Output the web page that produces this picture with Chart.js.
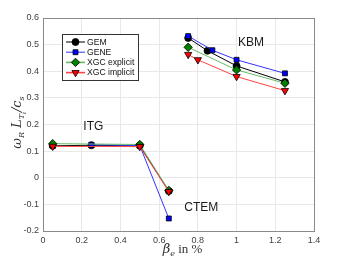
<!DOCTYPE html>
<html>
<head>
<meta charset="utf-8">
<script src="https://cdn.jsdelivr.net/npm/chart.js@4.4.1/dist/chart.umd.min.js"></script>
<style>
  html, body { margin: 0; padding: 0; background: #fff; }
  #wrap { width: 346px; height: 259px; }
</style>
</head>
<body>
<div id="wrap"><canvas id="myChart"></canvas></div>
<script>
// beta_e in %, null y = gap between ITG/CTEM branch and KBM branch
let gemX = [0.05, 0.25, 0.5, 0.65, 0.7, 0.75, 0.85, 1.0, 1.25];
let gemY = [0.120, 0.122, 0.120, -0.050, null, 0.525, 0.477, 0.420, 0.360];

let geneX = [0.25, 0.5, 0.65, 0.7, 0.75, 0.875, 1.0, 1.25];
let geneY = [0.124, 0.121, -0.153, null, 0.532, 0.479, 0.443, 0.392];

let expX = [0.05, 0.5, 0.65, 0.7, 0.75, 1.0, 1.25];
let expY = [0.128, 0.125, -0.048, null, 0.490, 0.405, 0.355];

let impX = [0.05, 0.5, 0.65, 0.7, 0.75, 0.8, 1.0, 1.25];
let impY = [0.118, 0.117, -0.052, null, 0.463, 0.443, 0.380, 0.327];

let xTicks = [0, 0.2, 0.4, 0.6, 0.8, 1, 1.2, 1.4];
let yTicks = [-0.2, -0.1, 0, 0.1, 0.2, 0.3, 0.4, 0.5, 0.6];

let regimes = [
    { text: 'ITG', x: 0.26, y: 0.19 },
    { text: 'KBM', x: 1.075, y: 0.506 },
    { text: 'CTEM', x: 0.818, y: -0.113 }
];

function pts(xs, ys) {
    return xs.map((x, i) => ({ x: x, y: ys[i] }));
}

let series = [
    { label: 'GEM', data: pts(gemX, gemY), line: '#000000', fill: '#000000', style: 'circle', r: 3.5, rot: 0 },
    { label: 'GENE', data: pts(geneX, geneY), line: '#3333ff', fill: '#0000ff', style: 'rect', r: 3.5, rot: 0 },
    { label: 'XGC explicit', data: pts(expX, expY), line: '#66bb66', fill: '#007f00', style: 'rectRot', r: 4.2, rot: 0 },
    { label: 'XGC implicit', data: pts(impX, impY), line: '#ff4444', fill: '#ff0000', style: 'triangle', r: 4.2, rot: 180 }
];

// draw a run of text pieces: [text, font, dy]
function drawRich(ctx, pieces, x, y) {
    let total = 0;
    pieces.forEach(p => { ctx.font = p[1]; total += ctx.measureText(p[0]).width; });
    let cx = x - total / 2;
    pieces.forEach(p => {
        ctx.font = p[1];
        ctx.fillText(p[0], cx, y + p[2]);
        cx += ctx.measureText(p[0]).width;
    });
}

let extras = {
    id: 'extras',
    afterDraw(chart) {
        let ctx = chart.ctx;
        let xs = chart.scales.x, ys = chart.scales.y;
        let area = chart.chartArea;
        ctx.save();

        // box
        ctx.strokeStyle = '#8a8a8a';
        ctx.lineWidth = 1;
        ctx.strokeRect(Math.round(area.left) + 0.5, Math.round(area.top) + 0.5,
            Math.round(area.right - area.left), Math.round(area.bottom - area.top));

        // regime labels
        ctx.fillStyle = '#1a1a1a';
        ctx.font = '12px "Liberation Sans", Arial, sans-serif';
        ctx.textAlign = 'center';
        ctx.textBaseline = 'middle';
        regimes.forEach(r => ctx.fillText(r.text, xs.getPixelForValue(r.x), ys.getPixelForValue(r.y)));

        // axis titles
        ctx.textAlign = 'left';
        ctx.textBaseline = 'alphabetic';
        ctx.fillStyle = '#333';
        let it = 'italic 13px "DejaVu Serif", "Liberation Serif", serif';
        let sub = 'italic 8px "DejaVu Serif", "Liberation Serif", serif';
        let up = '13px "Liberation Serif", serif';
        drawRich(ctx, [['\u03b2', it, 0], ['e', sub, 3], [' in %', up, 0]], (area.left + area.right) / 2 + 4, 253);

        ctx.save();
        ctx.translate(21, (area.top + area.bottom) / 2 - 2);
        ctx.rotate(-Math.PI / 2);
        drawRich(ctx, [['\u03c9', it, 0], ['R', sub, 3], [' L', it, 0], ['T', sub, 3],
            ['i', 'italic 6px "DejaVu Serif", serif', 5], ['/c', it, 0], ['s', sub, 3]], 0, 0);
        ctx.restore();

        // legend
        let lx = 62, ly = 34, lw = 76, lh = 46;
        ctx.fillStyle = '#ffffff';
        ctx.fillRect(lx, ly, lw, lh);
        ctx.strokeStyle = '#333';
        ctx.lineWidth = 1;
        ctx.strokeRect(lx + 0.5, ly + 0.5, lw, lh);
        ctx.font = '8.6px "Liberation Sans", Arial, sans-serif';
        ctx.textBaseline = 'middle';
        series.forEach((s, i) => {
            let yy = ly + 8 + i * 10.2;
            ctx.strokeStyle = s.line;
            ctx.lineWidth = i >= 2 ? 1.6 : 1;
            ctx.beginPath();
            ctx.moveTo(lx + 4, yy);
            ctx.lineTo(lx + 23, yy);
            ctx.stroke();
            ctx.fillStyle = s.fill;
            ctx.strokeStyle = '#000';
            ctx.lineWidth = 0.8;
            Chart.helpers.drawPoint(ctx, { pointStyle: s.style, radius: s.r, rotation: s.rot, borderWidth: 0.8 }, lx + 13.5, yy);
            ctx.fillStyle = '#111';
            ctx.fillText(s.label, lx + 25, yy + 0.5);
        });
        ctx.restore();
    }
};

let ctx = document.getElementById('myChart').getContext('2d');

new Chart(ctx, {
    type: 'scatter',
    data: {
        datasets: series.map((s, i) => ({
            label: s.label,
            data: s.data,
            order: series.length - i,
            showLine: true,
            spanGaps: false,
            borderColor: s.line,
            borderWidth: 1,
            backgroundColor: s.fill,
            pointBackgroundColor: s.fill,
            pointBorderColor: '#000',
            pointBorderWidth: 0.8,
            pointStyle: s.style,
            pointRadius: s.r,
            pointRotation: s.rot
        }))
    },
    options: {
        responsive: true,
        maintainAspectRatio: false,
        animation: false,
        layout: { padding: { left: 0, right: 32, top: 18, bottom: 0 } },
        plugins: {
            legend: { display: false },
            tooltip: { enabled: false }
        },
        scales: {
            x: {
                type: 'linear',
                min: 0,
                max: 1.4,
                afterFit(scale) { scale.height = 28; },
                afterBuildTicks(scale) { scale.ticks = xTicks.map(v => ({ value: v })); },
                grid: { color: '#e8e8e8', drawTicks: false },
                border: { color: '#8a8a8a' },
                ticks: {
                    padding: 4,
                    color: '#404040',
                    font: { size: 9, family: '"Liberation Sans", Arial, sans-serif' },
                    callback: v => String(Number(v.toFixed(1)))
                }
            },
            y: {
                min: -0.2,
                max: 0.6,
                afterFit(scale) { scale.width = 43; },
                afterBuildTicks(scale) { scale.ticks = yTicks.map(v => ({ value: v })); },
                grid: { color: '#e8e8e8', drawTicks: false },
                border: { color: '#8a8a8a' },
                ticks: {
                    padding: 4,
                    color: '#404040',
                    font: { size: 9, family: '"Liberation Sans", Arial, sans-serif' },
                    callback: v => String(Number(v.toFixed(1)))
                }
            }
        }
    },
    plugins: [extras]
});
</script>
</body>
</html>
